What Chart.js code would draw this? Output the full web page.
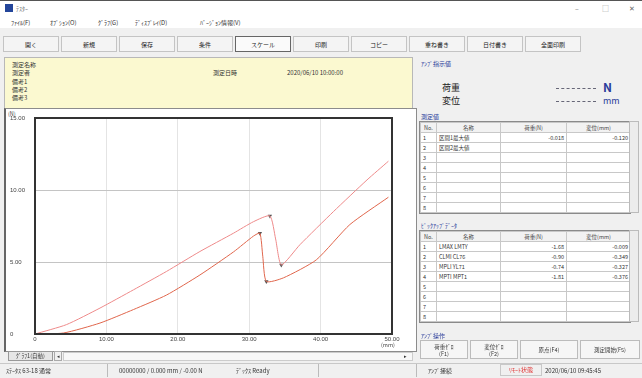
<!DOCTYPE html>
<html>
<head>
<meta charset="utf-8">
<script src="https://cdn.jsdelivr.net/npm/chart.js@4/dist/chart.umd.min.js"></script>
<style>
  body { margin:0; width:642px; height:378px; overflow:hidden; background:#f0f0f0;
         font-family:"Noto Sans CJK JP","Noto Sans",sans-serif; font-size:6px; color:#333; position:relative; }
  .a { position:absolute; white-space:nowrap; }
  .btn { position:absolute; top:36px; height:16px; width:56px; background:#f4f4f4; border:1px solid #c4c4c4;
         box-sizing:border-box; text-align:center; line-height:15px; font-size:6px; color:#222; }
  .btn.on { border:1px solid #666; background:#fafafa; }
  .lbl { position:absolute; font-size:6px; color:#2a3c9a; }
  table { border-collapse:collapse; width:100%; background:#fff; font-size:5.5px; table-layout:fixed; }
  td, th { border:1px solid #c8c8c8; height:9px; padding:0 2px; line-height:8px; overflow:hidden; white-space:nowrap; }
  th { background:#f2f2f2; font-weight:normal; color:#444; }
  td.n { text-align:right; }
  .tbl { position:absolute; left:419px; width:210px; border:1px solid #8a8a8a; }
  .sb { position:absolute; left:629px; width:10px; background:#ececec; border:1px solid #bbb; box-sizing:border-box; }
  .op { position:absolute; top:340px; height:19px; background:#f6f6f6; border:1px solid #bcbcbc; box-sizing:border-box;
        text-align:center; font-size:5.5px; line-height:6.5px; color:#333; padding-top:3px; }
  .dash { position:absolute; left:556px; width:40px; height:0; border-bottom:1px dashed #667; }
</style>
</head>
<body>
<!-- title bar -->
<div class="a" style="left:0;top:0;width:642px;height:15px;background:#fff;border-top:1px solid #555;"></div>
<div class="a" style="left:5px;top:4px;width:8px;height:8px;background:#23459a;"></div>
<div class="a" style="left:16px;top:4px;color:#777;">ﾃｽﾀｰ</div>
<div class="a" style="left:575px;top:3px;font-size:7px;color:#777;">–</div>
<div class="a" style="left:602px;top:3px;font-size:7px;color:#999;">□</div>
<div class="a" style="left:629px;top:3px;font-size:7px;color:#666;">✕</div>
<!-- menu -->
<div class="a" style="left:0;top:15px;width:642px;height:13px;background:#fff;"></div>
<div class="a" style="left:11px;top:18px;">ﾌｧｲﾙ(F)</div>
<div class="a" style="left:50px;top:18px;">ｵﾌﾟｼｮﾝ(O)</div>
<div class="a" style="left:98px;top:18px;">ｸﾞﾗﾌ(G)</div>
<div class="a" style="left:135px;top:18px;">ﾃﾞｨｽﾌﾟﾚｲ(D)</div>
<div class="a" style="left:200px;top:18px;">ﾊﾞｰｼﾞｮﾝ情報(V)</div>
<!-- toolbar -->
<div class="btn" style="left:3px;">開く</div>
<div class="btn" style="left:61px;">新規</div>
<div class="btn" style="left:119px;">保存</div>
<div class="btn" style="left:177px;">条件</div>
<div class="btn on" style="left:235px;">スケール</div>
<div class="btn" style="left:293px;">印刷</div>
<div class="btn" style="left:351px;">コピー</div>
<div class="btn" style="left:409px;">重ね書き</div>
<div class="btn" style="left:467px;">日付書き</div>
<div class="btn" style="left:525px;">全面印刷</div>

<!-- yellow info panel -->
<div class="a" style="left:4px;top:57px;width:407px;height:50px;background:#fbf9d0;border:1px solid #b8b8b8;"></div>
<div class="a" style="left:12px;top:60px;">測定名称</div>
<div class="a" style="left:12px;top:68px;">測定者</div>
<div class="a" style="left:12px;top:77px;">備考1</div>
<div class="a" style="left:12px;top:85px;">備考2</div>
<div class="a" style="left:12px;top:93px;">備考3</div>
<div class="a" style="left:213px;top:68px;">測定日時</div>
<div class="a" style="left:287px;top:68px;">2020/06/10 10:00:00</div>

<!-- chart panel -->
<div class="a" style="left:4px;top:108px;width:410px;height:242px;background:#fff;border:1px solid #8c8c8c;border-left:2px solid #666;"></div>
<div class="a" style="left:8px;top:110px;font-size:5.5px;color:#444;">(N)</div>
<canvas id="c" class="a" style="left:6px;top:110px;" width="406" height="238"></canvas>
<div class="a" style="left:381px;top:341px;font-size:5.5px;color:#444;">(mm)</div>
<!-- graph tab + scrollbar -->
<div class="a" style="left:8px;top:351px;width:45px;height:10px;background:#e6e6e6;border:1px solid #999;box-sizing:border-box;font-size:5.5px;line-height:8px;text-align:center;">ｸﾞﾗﾌ1(自動)</div>
<div class="a" style="left:54px;top:351px;width:8px;height:10px;border:1px solid #aaa;box-sizing:border-box;font-size:5px;line-height:8px;text-align:center;">◂</div>
<div class="a" style="left:63px;top:352px;width:350px;height:9px;background:#f8f8f8;border:1px solid #ccc;box-sizing:border-box;"></div>
<div class="a" style="left:404px;top:352px;font-size:5px;">▸</div>

<!-- right panel -->
<div class="lbl" style="left:421px;top:59px;">ｱﾝﾌﾟ指示値</div>
<div class="a" style="left:442px;top:81px;font-size:9px;color:#222;">荷重</div>
<div class="a" style="left:442px;top:94px;font-size:9px;color:#222;">変位</div>
<div class="dash" style="top:88px;"></div>
<div class="dash" style="top:101px;"></div>
<div class="a" style="left:603px;top:78px;font-size:12px;font-weight:bold;color:#2a3c9a;">N</div>
<div class="a" style="left:603px;top:94px;font-size:9px;color:#2a3c9a;">mm</div>

<div class="lbl" style="left:421px;top:112px;">測定値</div>
<div class="tbl" style="top:121px;">
<table>
  <colgroup><col style="width:16px"><col style="width:64px"><col style="width:66px"><col style="width:64px"></colgroup>
  <tr><th>No.</th><th>名称</th><th>荷重(N)</th><th>変位(mm)</th></tr>
  <tr><td>1</td><td>区間1最大値</td><td class="n">-0.018</td><td class="n">-0.120</td></tr>
  <tr><td>2</td><td>区間2最大値</td><td></td><td></td></tr>
  <tr><td>3</td><td></td><td></td><td></td></tr>
  <tr><td>4</td><td></td><td></td><td></td></tr>
  <tr><td>5</td><td></td><td></td><td></td></tr>
  <tr><td>6</td><td></td><td></td><td></td></tr>
  <tr><td>7</td><td></td><td></td><td></td></tr>
  <tr><td>8</td><td></td><td></td><td></td></tr>
</table>
</div>
<div class="sb" style="top:121px;height:92px;"></div>

<div class="lbl" style="left:421px;top:221px;">ﾋﾟｯｸｱｯﾌﾟﾃﾞｰﾀ</div>
<div class="tbl" style="top:230px;">
<table>
  <colgroup><col style="width:16px"><col style="width:64px"><col style="width:66px"><col style="width:64px"></colgroup>
  <tr><th>No.</th><th>名称</th><th>荷重(N)</th><th>変位(mm)</th></tr>
  <tr><td>1</td><td>LMAX LMTY</td><td class="n">-1.68</td><td class="n">-0.009</td></tr>
  <tr><td>2</td><td>CLMI CL76</td><td class="n">-0.90</td><td class="n">-0.349</td></tr>
  <tr><td>3</td><td>MPLI YL71</td><td class="n">-0.74</td><td class="n">-0.327</td></tr>
  <tr><td>4</td><td>MPTI MPT1</td><td class="n">-1.81</td><td class="n">-0.376</td></tr>
  <tr><td>5</td><td></td><td></td><td></td></tr>
  <tr><td>6</td><td></td><td></td><td></td></tr>
  <tr><td>7</td><td></td><td></td><td></td></tr>
  <tr><td>8</td><td></td><td></td><td></td></tr>
</table>
</div>
<div class="sb" style="top:230px;height:92px;"></div>

<div class="lbl" style="left:421px;top:331px;">ｱﾝﾌﾟ操作</div>
<div class="op" style="left:420px;width:48px;">荷重ｾﾞﾛ<br>(F1)</div>
<div class="op" style="left:470px;width:48px;">変位ｾﾞﾛ<br>(F2)</div>
<div class="op" style="left:520px;width:58px;padding-top:6px;">原点(F4)</div>
<div class="op" style="left:580px;width:60px;padding-top:6px;">測定開始(F5)</div>

<!-- status bar -->
<div class="a" style="left:0;top:363px;width:642px;height:15px;background:#f0f0f0;border-top:1px solid #c8c8c8;"></div>
<div class="a" style="left:6px;top:366px;">ｽﾃｰﾀｽ 63-18 通常</div>
<div class="a" style="left:107px;top:364px;width:1px;height:13px;background:#bbb;"></div>
<div class="a" style="left:119px;top:366px;">00000000 / 0.000 mm / -0.00 N</div>
<div class="a" style="left:236px;top:366px;">ﾃﾞｯｸｽ Ready</div>
<div class="a" style="left:318px;top:364px;width:1px;height:13px;background:#bbb;"></div>
<div class="a" style="left:416px;top:364px;width:1px;height:13px;background:#bbb;"></div>
<div class="a" style="left:428px;top:366px;">ｱﾝﾌﾟ接続</div>
<div class="a" style="left:500px;top:364px;width:42px;height:12px;border:1px solid #c8c8c8;box-sizing:border-box;color:#e03030;text-align:center;line-height:10px;">ﾘﾓｰﾄ状態</div>
<div class="a" style="left:545px;top:366px;">2020/06/10 09:45:45</div>

<script>
// displacement (mm) / load (N)
const upperX = [0, 4.4, 9.1, 13.8, 18.4, 23.1, 27.8, 30.6, 32.9, 33.7, 34.5, 37.1, 41.8, 46.5, 49.5];
const upperY = [0, 0.65, 1.8, 3.07, 4.34, 5.73, 7.0, 7.8, 8.2, 6.6, 4.8, 6.2, 8.5, 10.7, 12.0];
const lowerX = [0, 4.0, 9.1, 13.8, 18.4, 23.1, 27.8, 30.6, 31.5, 31.9, 32.4, 34.8, 39.4, 44.1, 49.5];
const lowerY = [0, 0.07, 0.76, 1.7, 2.7, 4.1, 5.7, 6.8, 7.0, 5.4, 3.65, 3.9, 5.15, 7.6, 9.5];
// pickup markers (peaks and troughs)
const markX = [32.9, 34.5, 31.5, 32.4];
const markY = [8.2, 4.8, 7.0, 3.65];
// axis ticks
const xTicks = [0, 10, 20, 30, 40, 50];
const yTicks = [0, 5, 10, 15];

const pts = (xs, ys) => xs.map((x, i) => ({ x, y: ys[i] }));

// dark frame round the plot
const frame = {
  id: 'frame',
  afterDraw(chart) {
    const { ctx, chartArea: a } = chart;
    ctx.save();
    ctx.strokeStyle = '#333';
    ctx.lineWidth = 2;
    ctx.strokeRect(a.left, a.top, a.right - a.left, a.bottom - a.top);
    ctx.restore();
  }
};

new Chart(document.getElementById('c'), {
  type: 'line',
  data: {
    datasets: [
      { data: pts(upperX, upperY), borderColor: '#ee8a8a', borderWidth: 1, pointRadius: 0, tension: 0.2 },
      { data: pts(lowerX, lowerY), borderColor: '#e0664c', borderWidth: 1, pointRadius: 0, tension: 0.2 },
      { type: 'scatter', data: pts(markX, markY), pointStyle: 'triangle', rotation: 180,
        pointRadius: 2.5, backgroundColor: '#555', borderColor: '#555', borderWidth: 0 }
    ]
  },
  options: {
    responsive: false,
    animation: false,
    layout: { padding: { left: 4, top: 8, right: 20, bottom: 0 } },
    plugins: { legend: { display: false }, tooltip: { enabled: false } },
    scales: {
      x: {
        type: 'linear', min: xTicks[0], max: xTicks[xTicks.length - 1],
        afterBuildTicks: s => { s.ticks = xTicks.map(v => ({ value: v })); },
        afterFit: s => { s.height = 14; s.paddingLeft = 0; s.paddingRight = 0; },
        grid: { color: '#e4e4e4', drawTicks: false },
        border: { display: false },
        ticks: { padding: 2, color: '#444', font: { size: 6 }, maxRotation: 0,
                 callback: v => v === 0 ? '0' : v.toFixed(2) }
      },
      y: {
        min: yTicks[0], max: yTicks[yTicks.length - 1],
        afterBuildTicks: s => { s.ticks = yTicks.map(v => ({ value: v })); },
        afterFit: s => { s.width = 25; s.paddingTop = 0; s.paddingBottom = 0; },
        grid: { color: '#c4c4c4', drawTicks: false },
        border: { display: false },
        ticks: { padding: 3, color: '#444', font: { size: 6 }, crossAlign: 'far',
                 callback: v => v === 0 ? '0' : v.toFixed(2) }
      }
    }
  },
  plugins: [frame]
});
</script>
</body>
</html>
